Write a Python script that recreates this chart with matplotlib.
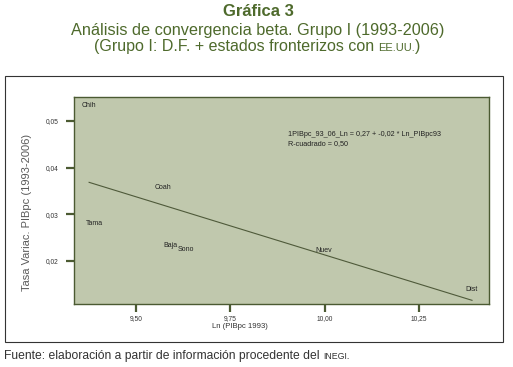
import matplotlib
matplotlib.use('Agg')
import matplotlib.pyplot as plt
from matplotlib.patches import Rectangle
import numpy as np

# datos: estados (etiquetas) y coordenadas
estados = ['Chih', 'Coah', 'Tama', 'Baja', 'Sono', 'Nuev', 'Dist']
ln_pib93 = [9.376, 9.572, 9.391, 9.592, 9.632, 9.997, 10.390]
tasa_var = [0.0533, 0.0358, 0.0281, 0.0233, 0.0224, 0.0223, 0.0140]

# recta de ajuste
intercepto = 0.2703
pendiente = -0.0249

x_ticks = [9.50, 9.75, 10.00, 10.25]
y_ticks = [0.02, 0.03, 0.04, 0.05]

W, H = 513, 367
verde = '#4e6a2c'
marco = '#4b5a32'
fondo = '#c0c8ad'

fig = plt.figure(figsize=(W / 100, H / 100), dpi=100)
fig.patch.set_facecolor('white')


def fx(px):
    return px / W


def fy(py):
    return 1 - py / H


# titulos
fig.text(fx(258), fy(11), 'Gráfica 3', ha='center', va='center',
         fontsize=12, fontweight='bold', color=verde, family='Liberation Sans')
fig.text(fx(258), fy(30), 'Análisis de convergencia beta. Grupo I (1993-2006)',
         ha='center', va='center', fontsize=11.7, color=verde, family='Liberation Sans')

# tercera linea con versalitas para EE.UU.
fig.canvas.draw()
r = fig.canvas.get_renderer()
t1 = fig.text(0, fy(47), '(Grupo I: D.F. + estados fronterizos con ', ha='left',
              va='center', fontsize=11.5, color=verde, family='Liberation Sans')
t2 = fig.text(0, fy(47.8), 'EE.UU.', ha='left', va='center', fontsize=8,
              color=verde, family='Liberation Sans')
t3 = fig.text(0, fy(47), ')', ha='left', va='center', fontsize=11.5,
              color=verde, family='Liberation Sans')
w1 = t1.get_window_extent(r).width
w2 = t2.get_window_extent(r).width
w3 = t3.get_window_extent(r).width
x0 = 257 - (w1 + w2 + w3) / 2
t1.set_x(fx(x0))
t2.set_x(fx(x0 + w1))
t3.set_x(fx(x0 + w1 + w2))

# caja exterior
fig.patches.append(Rectangle((fx(5), fy(342)), fx(503) - fx(5), fy(76) - fy(342),
                             transform=fig.transFigure, fill=False,
                             edgecolor='#333333', linewidth=0.8))

# area del grafico
ax = fig.add_axes([fx(74), fy(304), fx(489) - fx(74), fy(97) - fy(304)])
ax.set_facecolor(fondo)
for s in ax.spines.values():
    s.set_color(marco)
    s.set_linewidth(1.0)

ax.set_xlim(9.336, 10.435)
ax.set_ylim(0.0108, 0.0551)

xs = np.array([min(ln_pib93), max(ln_pib93)])
ax.plot(xs, intercepto + pendiente * xs, color='#4f5a3a', linewidth=0.8)

for nombre, xv, yv in zip(estados, ln_pib93, tasa_var):
    ax.text(xv, yv, nombre, ha='center', va='center', fontsize=5,
            color='#222222', family='Liberation Sans')

ax.text(9.902, 0.0471, '1PIBpc_93_06_Ln = 0,27 + -0,02 * Ln_PIBpc93',
        ha='left', va='center', fontsize=5.2, color='#222222', family='Liberation Sans')
ax.text(9.902, 0.0452, 'R-cuadrado = 0,50', ha='left', va='center',
        fontsize=5.2, color='#222222', family='Liberation Sans')

ax.set_xticks(x_ticks)
ax.set_xticklabels([('%.2f' % v).replace('.', ',') for v in x_ticks])
ax.set_yticks(y_ticks)
ax.set_yticklabels([('%.2f' % v).replace('.', ',') for v in y_ticks])
ax.tick_params(axis='both', length=6, width=1.6, color=marco, labelsize=4.8,
               labelcolor='#333333')
ax.tick_params(axis='y', pad=5)
ax.tick_params(axis='x', pad=2)
for lb in ax.get_xticklabels() + ax.get_yticklabels():
    lb.set_family('Liberation Sans')

fig.text(fx(27), fy(212), 'Tasa Variac. PIBpc (1993-2006)', rotation=90,
         ha='center', va='center', fontsize=8, color='#5a5a5a', family='Liberation Sans')
fig.text(fx(240), fy(327), 'Ln (PIBpc 1993)', ha='center', va='center',
         fontsize=5.6, color='#333333', family='Liberation Sans')

# fuente
s1 = fig.text(fx(4), fy(356), 'Fuente: elaboración a partir de información procedente del ',
              ha='left', va='center', fontsize=8.7, color='#333333', family='Liberation Sans')
fig.canvas.draw()
ws = s1.get_window_extent(r).width
fig.text(fx(4 + ws), fy(356.6), 'INEGI.', ha='left', va='center', fontsize=6.3,
         color='#333333', family='Liberation Sans')

fig.savefig('out.png', dpi=100)
